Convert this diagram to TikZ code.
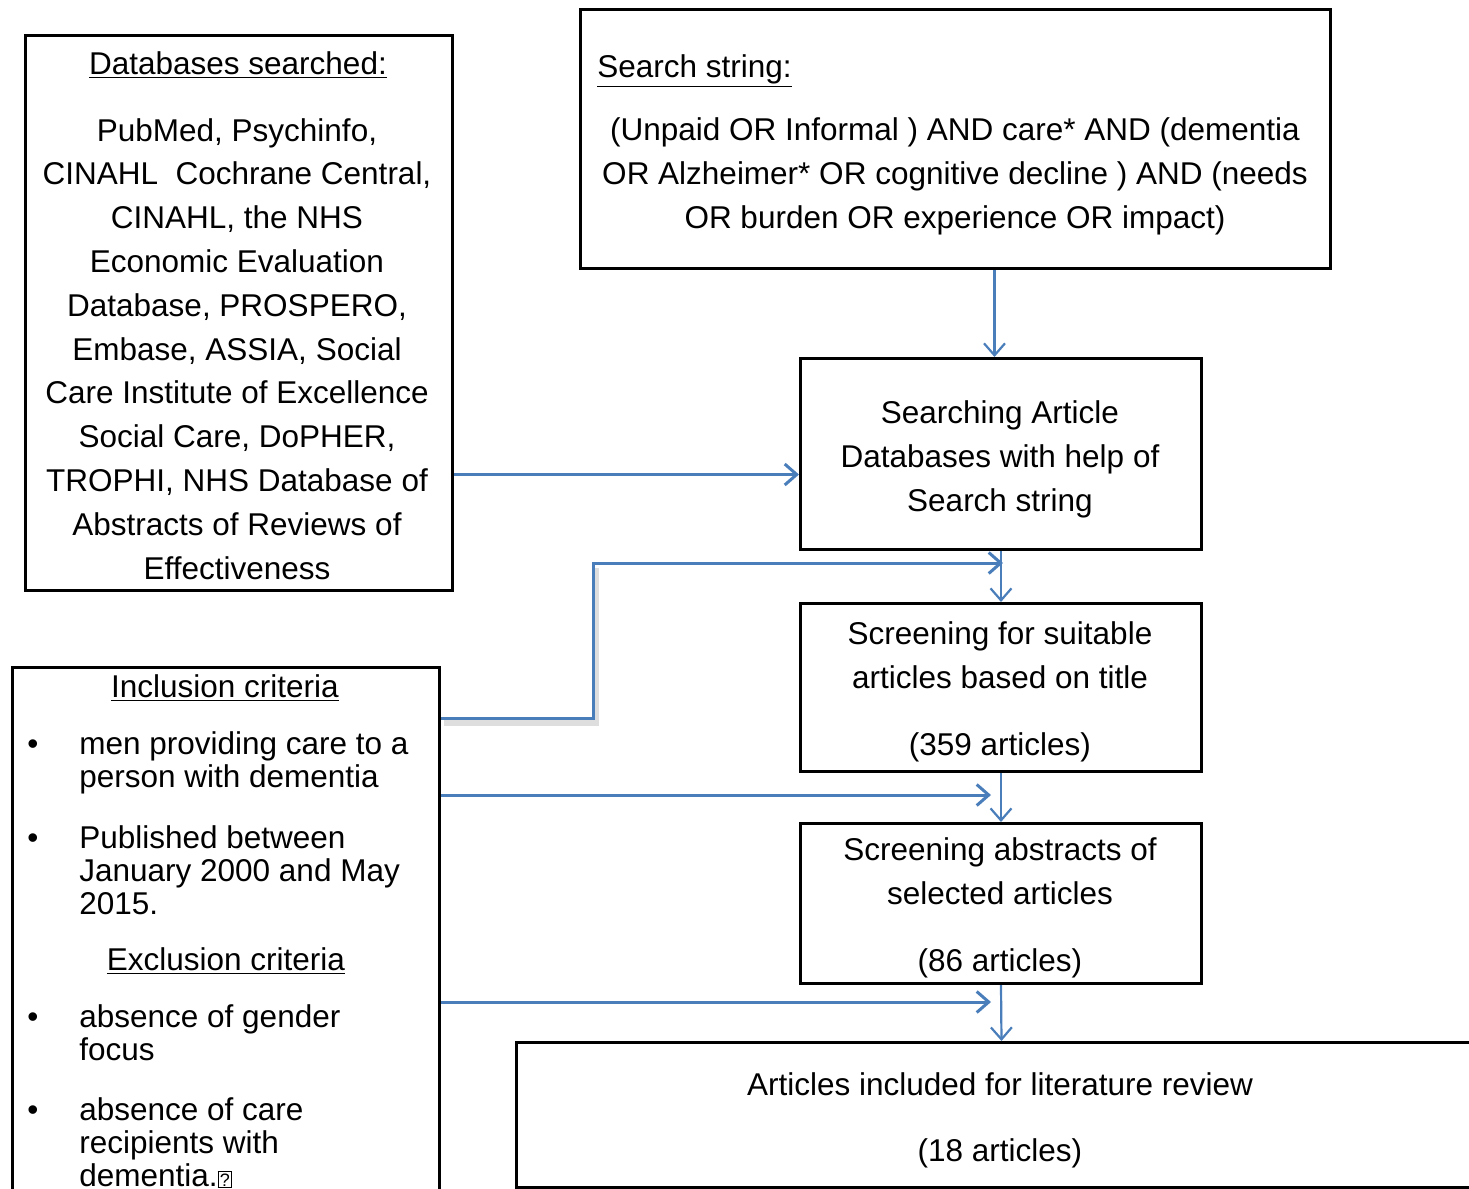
\documentclass[tikz,border=0pt]{standalone}
\usepackage{fontspec}
\setmainfont{Liberation Sans}
\usetikzlibrary{arrows.meta,calc}
\definecolor{arrblue}{HTML}{4A7EBB}
\newcommand\missbox{{\setlength{\fboxsep}{0.6pt}\setlength{\fboxrule}{0.5pt}\fbox{\fontsize{9}{9}\selectfont ?}}}
\begin{document}
\begin{tikzpicture}[x=0.5pt,y=-0.5pt,
  box/.style={draw=black,line width=1.5pt,inner sep=0pt,anchor=north west},
  txt/.style={inner sep=0pt,align=center,font=\fontsize{15.75}{21.9}\selectfont},
  ltxt/.style={inner sep=0pt,align=left,font=\fontsize{15.75}{16.5}\selectfont},
  arr/.style={draw=arrblue,line width=1.5pt,-{Straight Barb[length=6pt,width=10.5pt]}},
  varr/.style={arr,line width=1.1pt},
  shadowline/.style={draw=black!13,line width=3pt}]
\useasboundingbox (0,0) rectangle (1469,1189);
\clip (0,0) rectangle (1469,1189);

% boxes
\node[box,minimum width=213.5pt,minimum height=277.5pt] (db) at (24,34) {};
\node[box,minimum width=375pt,minimum height=129.5pt] (search) at (579,8) {};
\node[box,minimum width=200.5pt,minimum height=95.5pt] (sab) at (799,357) {};
\node[box,minimum width=200.5pt,minimum height=84pt] (stitle) at (799,602) {};
\node[box,minimum width=200.5pt,minimum height=80pt] (sabs) at (799,822) {};
\node[box,minimum width=485pt,minimum height=72.5pt] (art) at (515,1041) {};
\node[box,minimum width=213.5pt,minimum height=280pt] (incl) at (11,666) {};

% texts (anchor=base is the baseline of the last line)
\node[txt,anchor=base] (dbh) at (238,74) {\underline{Databases searched:}};
\node[txt,anchor=base] (dbt) at (237,579) {PubMed, Psychinfo,\\CINAHL\ \ Cochrane Central,\\CINAHL, the NHS\\Economic Evaluation\\Database, PROSPERO,\\Embase, ASSIA, Social\\Care Institute of Excellence\\Social Care, DoPHER,\\TROPHI, NHS Database of\\Abstracts of Reviews of\\Effectiveness};
\node[txt,anchor=base west] (ssh) at (597,77) {\underline{Search string:}};
\node[txt,anchor=base] (sst) at (955,228) {(Unpaid OR Informal ) AND care* AND (dementia\\OR Alzheimer* OR cognitive decline ) AND (needs\\OR burden OR experience OR impact)};
\node[txt,anchor=base] (sabt) at (1000,511) {Searching Article\\Databases with help of\\Search string};
\node[txt,anchor=base] (stt) at (1000,755) {Screening for suitable\\articles based on title\\[11.5pt](359 articles)};
\node[txt,anchor=base] (sbt) at (1000,971) {Screening abstracts of\\selected articles\\[11.5pt](86 articles)};
\node[txt,anchor=base] (artt) at (1000,1161) {Articles included for literature review\\[11pt](18 articles)};

\node[ltxt,anchor=base] (inh) at (225,697) {\underline{Inclusion criteria}};
\node[ltxt,anchor=base] (bu1) at (33,754) {•};
\node[ltxt,anchor=base west] (in1) at (79,787) {men providing care to a\\person with dementia};
\node[ltxt,anchor=base] (bu2) at (33,848) {•};
\node[ltxt,anchor=base west] (in2) at (79,914) {Published between\\January 2000 and May\\2015.};
\node[ltxt,anchor=base] (exh) at (226,970) {\underline{Exclusion criteria}};
\node[ltxt,anchor=base] (bu3) at (33,1027) {•};
\node[ltxt,anchor=base west] (ex1) at (79,1060) {absence of gender\\focus};
\node[ltxt,anchor=base] (bu4) at (33,1120) {•};
\node[ltxt,anchor=base west] (ex2) at (79,1186) {absence of care\\recipients with\\dementia.\missbox};

% connectors
\coordinate (s1) at ([yshift=-10.25pt]sab.west);
\coordinate (j1) at (1003,563);
\coordinate (corner) at (593,563);
\coordinate (j2) at (991,795);
\coordinate (j3) at (991,1002);
\coordinate (st1) at ([yshift=-26pt]incl.north east);
\coordinate (st2) at ([yshift=-64.5pt]incl.north east);
\coordinate (st3) at ([yshift=-168pt]incl.north east);

\draw[shadowline] ([shift={(3,5)}]st1) -| ([shift={(3,5)}]corner);
\draw[varr] ([xshift=-3.25pt]sab.north |- search.south) -- ([xshift=-3.25pt]sab.north);
\draw[arr] (db.east |- s1) -- (s1);
\draw[varr] (sab.south) -- (stitle.north);
\draw[varr] (stitle.south) -- (sabs.north);
\draw[varr] (sabs.south) -- (art.north);
\draw[arr] (st1) -| (corner) -- (j1);
\draw[arr] (st2) -- (j2);
\draw[arr] (st3) -- (j3);
\end{tikzpicture}
\end{document}
